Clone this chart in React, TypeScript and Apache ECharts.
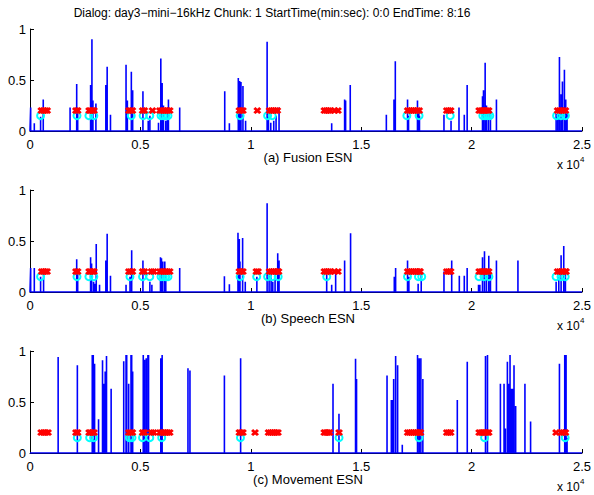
import React, { useEffect, useRef } from "react";
import * as echarts from "echarts";

const TITLE = "Dialog: day3−mini−16kHz Chunk: 1 StartTime(min:sec): 0:0 EndTime: 8:16";
const panelLabels = ["(a) Fusion ESN", "(b) Speech ESN", "(c) Movement ESN"];
const X_MIN = 0;
const X_MAX = 25000;
const X_STEP = 5000;
const Y_MIN = 0;
const Y_MAX = 1;
const Y_STEP = 0.5;
const CROSS_Y = 0.2;
const CIRCLE_Y = 0.15;

// [time index, ESN output] spikes
const fusionSpikes = [
  [30, 0.23], [195, 0.075], [480, 0.14], [600, 0.31], [1815, 0.23], [2115, 0.46], [2160, 0.2],
  [2745, 0.45], [2805, 0.9], [2850, 0.3], [2985, 0.27], [3435, 0.45], [3495, 0.63], [3645, 0.16],
  [4350, 0.65], [4410, 0.3], [4590, 0.58], [4650, 0.4], [5115, 0.39], [5355, 0.1], [5430, 0.15],
  [5820, 0.08], [5925, 0.71], [5985, 0.47], [6045, 0.25], [6150, 0.1], [6225, 0.2], [6270, 0.31],
  [6780, 0.23], [8820, 0.39], [9030, 0.075], [9435, 0.52], [9495, 0.49], [9555, 0.48], [9645, 0.44],
  [9765, 0.1], [10740, 0.875], [10800, 0.2], [10905, 0.08], [11040, 0.1], [11145, 0.15], [11280, 0.23],
  [13664, 0.075], [14250, 0.31], [14295, 0.3], [14505, 0.45], [16140, 0.16], [16486, 0.31],
  [16546, 0.685], [17100, 0.31], [17145, 0.15], [17550, 0.3], [17610, 0.2], [17640, 0.15],
  [18750, 0.16], [19070, 0.1], [19430, 0.23], [19670, 0.16], [19800, 0.45], [20495, 0.34],
  [20540, 0.4], [20615, 0.67], [20675, 0.25], [20765, 0.2], [20855, 0.2], [21126, 0.31],
  [23830, 0.17], [23905, 0.2], [23980, 0.725], [24055, 0.36], [24115, 0.485], [24205, 0.6],
  [24265, 0.31], [24325, 0.2],
];
const speechSpikes = [
  [30, 0.235], [195, 0.235], [480, 0.15], [615, 0.22], [2115, 0.32], [2160, 0.2], [2745, 0.34],
  [2790, 0.28], [2880, 0.1], [2940, 0.08], [3000, 0.47], [3150, 0.07], [3435, 0.31], [3495, 0.57],
  [3645, 0.16], [4350, 0.07], [4530, 0.15], [4605, 0.41], [5115, 0.31], [5430, 0.1], [5520, 0.07],
  [5910, 0.34], [5955, 0.33], [6015, 0.3], [6105, 0.3], [6150, 0.15], [6780, 0.235], [8805, 0.155],
  [9030, 0.075], [9420, 0.58], [9480, 0.52], [9510, 0.3], [9630, 0.53], [9750, 0.1], [10275, 0.15],
  [10740, 0.87], [10830, 0.22], [10920, 0.22], [10995, 0.1], [11100, 0.15], [11220, 0.38], [11280, 0.31],
  [13438, 0.17], [13664, 0.07], [13844, 0.2], [14250, 0.31], [14520, 0.575], [16500, 0.15],
  [16560, 0.235], [17100, 0.31], [17160, 0.15], [17580, 0.08], [17720, 0.2], [18750, 0.2],
  [19100, 0.31], [19445, 0.16], [19670, 0.16], [19800, 0.235], [20315, 0.07], [20375, 0.07],
  [20495, 0.34], [20585, 0.4], [20675, 0.2], [20780, 0.355], [20855, 0.2], [21126, 0.31],
  [22100, 0.31], [23830, 0.1], [23950, 0.15], [24055, 0.36], [24175, 0.45], [24250, 0.2],
];
const movementSpikes = [
  [1275, 0.94], [2145, 0.86], [2820, 0.96], [2865, 0.96], [2925, 0.875], [3105, 0.33], [3285, 0.91],
  [3345, 0.68], [3405, 0.8], [3465, 0.95], [3675, 0.63], [4245, 0.9], [4350, 0.96], [4380, 0.96],
  [4470, 0.68], [4575, 0.96], [4605, 0.96], [4650, 0.8], [5130, 0.96], [5190, 0.915], [5265, 0.93],
  [5340, 0.96], [5370, 0.96], [5925, 0.93], [5985, 0.96], [7155, 0.83], [7245, 0.81], [8805, 0.76],
  [9540, 0.93],
  [13724, 0.68], [13994, 0.385], [14745, 0.925], [14790, 0.725], [16171, 0.76], [16366, 0.52],
  [16411, 0.52], [16471, 0.725], [16561, 0.95], [16651, 0.86], [16862, 0.08], [17553, 0.96],
  [17628, 0.93], [17703, 0.93], [17793, 0.725], [19354, 0.52], [19805, 0.895], [20631, 0.95],
  [20721, 0.96], [21306, 0.68], [21471, 0.68], [21531, 0.24], [21622, 0.895], [21682, 0.68],
  [21742, 0.96], [21802, 0.63], [21862, 0.63], [21922, 0.86], [21997, 0.46], [22417, 0.68],
  [22673, 0.31], [23980, 0.875], [24220, 0.96], [24280, 0.96], [24325, 0.15],
];

// red crosses (y = 0.2)
const fusionCross = [
  510, 600, 690, 780, 2080, 2160, 2675, 2750, 2825, 2900, 4475, 4560, 4640, 5100, 5180, 5545,
  5880, 5970, 6060, 6150, 6240, 6330, 9480, 9560, 9645, 10296, 10845, 10935, 11025, 11115, 11205,
  13330, 13420, 13510, 13600, 13800, 13950, 17104, 17190, 17280, 17370, 17460, 17545, 17630,
  18875, 18965, 19055, 20341, 20430, 20520, 20610, 20700, 20777, 23893, 23980, 24070, 24160, 24253,
];
const speechCross = [
  530, 610, 690, 775, 2080, 2160, 2675, 2750, 2825, 2900, 4475, 4560, 4640, 5100, 5180, 5500, 5600,
  5880, 5970, 6060, 6150, 6240, 6330, 9480, 9560, 9645, 10250, 10330, 10845, 10935, 11025, 11115,
  11200, 11260, 13330, 13420, 13510, 13600, 13800, 13950, 17104, 17190, 17280, 17370, 17460, 17545,
  17630, 17670, 18875, 18965, 19055, 20341, 20430, 20520, 20610, 20700, 20777, 23893, 23980, 24070,
  24160, 24253, 24280,
];
const movementCross = [
  503, 610, 715, 818, 2080, 2160, 2675, 2750, 2825, 2900, 4475, 4560, 4640, 5100, 5180, 5500, 5600,
  5880, 5970, 6060, 6150, 6240, 6330, 9480, 9560, 9645, 10192, 10800, 10890, 10980, 11070, 11150,
  11232, 13327, 13410, 13490, 13570, 13997, 17104, 17190, 17280, 17370, 17460, 17545, 17630, 17688,
  18875, 18965, 19055, 20341, 20430, 20520, 20610, 20700, 20777, 23826, 24070, 24160, 24253,
];

// cyan circles (y = 0.15)
const fusionCircle = [
  480, 2128, 2667, 2892, 4586, 5125, 5426, 5935, 6040, 6145, 6250, 9517, 10761, 10970,
  17068, 17622, 19033, 20510, 20620, 20720, 20825, 23850, 24050, 24250,
];
const speechCircle = [
  480, 2128, 2667, 2892, 4527, 5096, 5426, 5935, 6040, 6145, 6250, 9517, 10266, 10761, 10970, 11240,
  13440, 17098, 17594, 17742, 20336, 20561, 20786, 23826, 24051, 24240,
];
const movementCircle = [
  2143, 2700, 2880, 4500, 4620, 5096, 5426, 5965, 9532, 13997, 17622, 20588, 24240,
];

const panels = [
  { spikes: fusionSpikes, cross: fusionCross, circle: fusionCircle },
  { spikes: speechSpikes, cross: speechCross, circle: speechCircle },
  { spikes: movementSpikes, cross: movementCross, circle: movementCircle },
];

const GRID_LEFT = 30;
const GRID_WIDTH = 556;
const GRID_TOPS = [29, 190, 351];
const GRID_HEIGHT = 102;
const FONT = '"Liberation Sans", Arial, Helvetica, sans-serif';
const CROSS_PATH =
  "path://M0,2.6 L2.6,0 L5,2.4 L7.4,0 L10,2.6 L7.6,5 L10,7.4 L7.4,10 L5,7.6 L2.6,10 L0,7.4 L2.4,5 Z";

function spikeLine(spikes: number[][]) {
  const sorted = [...spikes].sort((a, b) => a[0] - b[0]);
  const out: number[][] = [[X_MIN, 0]];
  for (const [x, h] of sorted) {
    out.push([x, 0], [x, h], [x, 0]);
  }
  out.push([X_MAX, 0]);
  return out;
}

export default function App() {
  const ref = useRef<HTMLDivElement>(null);
  useEffect(() => {
    if (!ref.current) return;
    const chart = echarts.init(ref.current, undefined, { renderer: "svg" });
    const grid = GRID_TOPS.map((top) => ({
      left: GRID_LEFT,
      top,
      width: GRID_WIDTH,
      height: GRID_HEIGHT,
      containLabel: false,
    }));
    const axisLine = { show: true, lineStyle: { color: "#000", width: 1 } };
    const xAxis = GRID_TOPS.map((_, i) => ({
      type: "value",
      gridIndex: i,
      min: X_MIN,
      max: X_MAX,
      interval: X_STEP,
      axisLine,
      axisTick: { show: true, inside: true, length: 4, lineStyle: { color: "#000" } },
      axisLabel: {
        margin: 7,
        fontSize: 13,
        fontFamily: FONT,
        color: "#000",
        formatter: (v: number) => String(v / 10000),
      },
      splitLine: { show: false },
    }));
    const yAxis = GRID_TOPS.map((_, i) => ({
      type: "value",
      gridIndex: i,
      min: Y_MIN,
      max: Y_MAX,
      interval: Y_STEP,
      axisLine,
      axisTick: { show: true, inside: true, length: 4, lineStyle: { color: "#000" } },
      axisLabel: { margin: 4, fontSize: 13, fontFamily: FONT, color: "#000" },
      splitLine: { show: false },
    }));
    const series: any[] = [];
    panels.forEach((p, i) => {
      series.push({
        type: "line",
        xAxisIndex: i,
        yAxisIndex: i,
        data: spikeLine(p.spikes),
        showSymbol: false,
        symbol: "none",
        lineStyle: { color: "#0000ff", width: 1.6 },
        z: 2,
      });
      series.push({
        type: "scatter",
        xAxisIndex: i,
        yAxisIndex: i,
        data: p.circle.map((x) => [x, CIRCLE_Y]),
        symbol: "circle",
        symbolSize: 7,
        itemStyle: { color: "rgba(0,0,0,0)", borderColor: "#00ffff", borderWidth: 2, opacity: 1 },
        z: 3,
      });
      series.push({
        type: "scatter",
        xAxisIndex: i,
        yAxisIndex: i,
        data: p.cross.map((x) => [x, CROSS_Y]),
        symbol: CROSS_PATH,
        symbolSize: [8, 7],
        itemStyle: { color: "#ff0000", opacity: 1 },
        z: 4,
      });
    });
    const labelYs = GRID_TOPS.map((t) => t + GRID_HEIGHT + 26);
    const graphic: any[] = [
      {
        type: "text",
        x: 272,
        y: 13,
        style: {
          text: TITLE,
          font: `12px ${FONT}`,
          fill: "#000",
          align: "center",
          verticalAlign: "middle",
        },
      },
    ];
    panelLabels.forEach((lab, i) => {
      graphic.push({
        type: "text",
        x: GRID_LEFT + GRID_WIDTH / 2,
        y: labelYs[i],
        style: { text: lab, font: `13px ${FONT}`, fill: "#000", align: "center", verticalAlign: "middle" },
      });
      const base = GRID_TOPS[i] + GRID_HEIGHT;
      graphic.push({
        type: "text",
        x: 557,
        y: base + 34,
        style: { text: "x 10", font: `12px ${FONT}`, fill: "#000", align: "left", verticalAlign: "middle" },
      });
      graphic.push({
        type: "text",
        x: 580,
        y: base + 28,
        style: { text: "4", font: `8px ${FONT}`, fill: "#000", align: "left", verticalAlign: "middle" },
      });
    });
    chart.setOption({
      animation: false,
      backgroundColor: "#fff",
      grid,
      xAxis,
      yAxis,
      series,
      graphic,
    });
    return () => chart.dispose();
  }, []);
  return (
    <div
      ref={ref}
      style={{ position: "fixed", left: 0, top: 0, width: 594, height: 495 }}
    />
  );
}
